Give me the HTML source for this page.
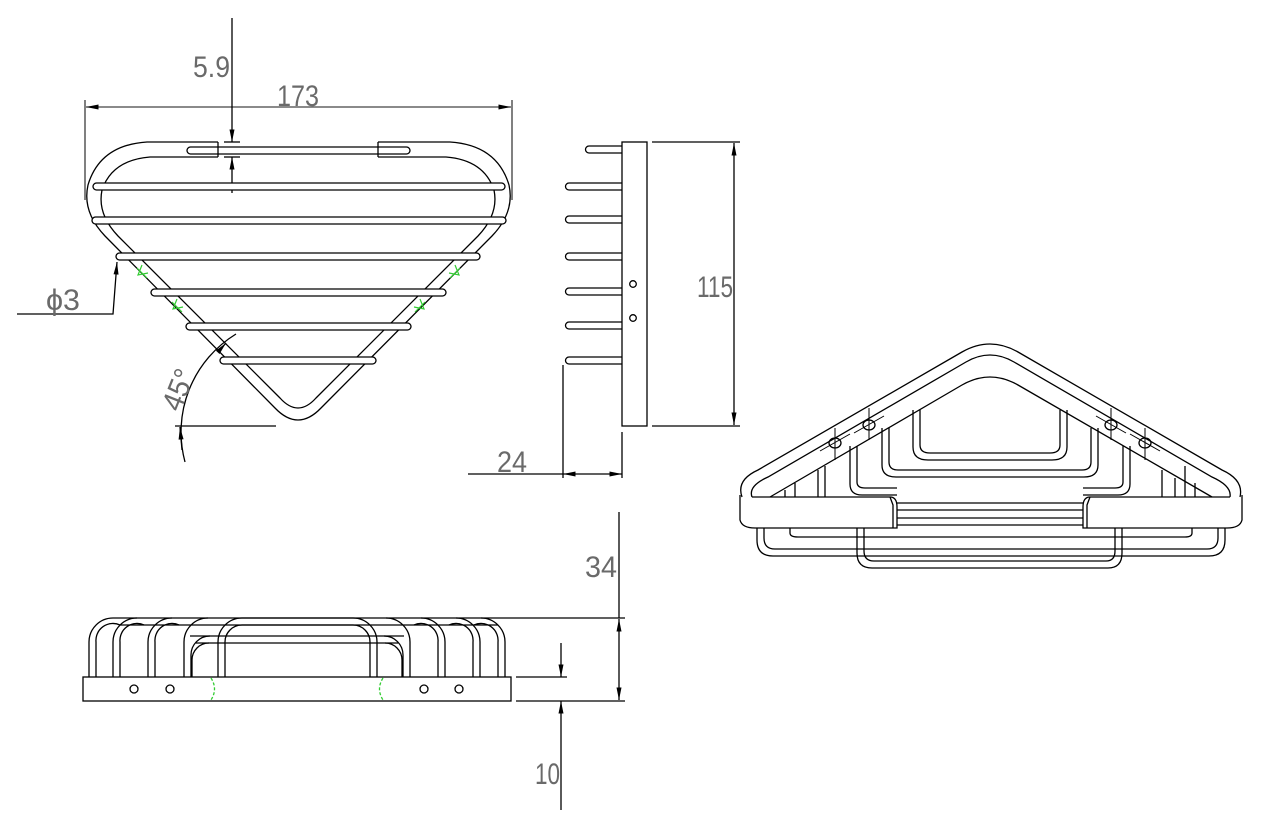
<!DOCTYPE html>
<html><head><meta charset="utf-8"><style>
html,body{margin:0;padding:0;background:#fff;}
svg{display:block;}
text{font-family:"Liberation Sans",sans-serif;fill:#6a6a6a;}
</style></head><body>
<svg width="1280" height="822" viewBox="0 0 1280 822" xmlns="http://www.w3.org/2000/svg">
<defs>
<marker id="a" viewBox="0 0 10 4" refX="10" refY="2" markerWidth="14" markerHeight="5" markerUnits="userSpaceOnUse" orient="auto-start-reverse"><path d="M0,0 L10,2 L0,4z" fill="#000"/></marker>
</defs>
<g fill="none" stroke="#000" stroke-width="1.3">
<line x1="86" y1="107" x2="511" y2="107" marker-start="url(#a)" marker-end="url(#a)" stroke="#444"/>
<line x1="85" y1="100" x2="85" y2="200" stroke-width="1"/>
<line x1="512" y1="100" x2="512" y2="200" stroke-width="1"/>
<line x1="232" y1="18" x2="232" y2="142" marker-end="url(#a)"/>
<line x1="232" y1="193" x2="232" y2="157" marker-end="url(#a)"/>
<line x1="224" y1="142" x2="240" y2="142"/>
<line x1="224" y1="157" x2="240" y2="157"/>
<path d="M218,142 H147 Q100,145 88,185 Q82,212 105,236 L275,408 Q298,432 321,408 L492,236 Q515,212 509,185 Q497,145 450,142 H378"/>
<path d="M218,157 H150 Q112,160 102,190 Q97,214 118,236 L280,398 Q298,418 316,398 L478,236 Q499,214 494,190 Q484,160 446,157 H378"/>
<line x1="218" y1="142" x2="218" y2="157"/>
<line x1="378" y1="142" x2="378" y2="157"/>
<rect x="187" y="147" width="223" height="7" rx="3.5"/>
<rect x="93" y="183" width="412" height="7" rx="3.5" fill="#fff"/>
<rect x="92" y="217" width="414" height="7" rx="3.5" fill="#fff"/>
<rect x="116" y="253" width="364" height="7" rx="3.5" fill="#fff"/>
<rect x="151" y="289" width="295" height="7" rx="3.5" fill="#fff"/>
<rect x="186" y="323" width="225" height="7" rx="3.5" fill="#fff"/>
<rect x="220" y="357" width="156" height="7" rx="3.5" fill="#fff"/>
<g stroke="#3c3" stroke-width="1.2">
<path d="M137,268 l10,10 M142,265 l-4,10 l10,-2 M172,302 l10,10 M177,299 l-4,10 l10,-2"/>
<path d="M460,268 l-10,10 M455,265 l4,10 l-10,-2 M425,302 l-10,10 M420,299 l4,10 l-10,-2"/>
</g>
<path d="M17,314 H113 L117,262" marker-end="url(#a)"/>
<path d="M236,334 A115 115 0 0 0 185,462"/>
<path d="M218,352 L226,343" marker-end="url(#a)"/>
<path d="M182,450 L180,427" marker-end="url(#a)"/>
<line x1="175" y1="426" x2="276" y2="426"/>

<rect x="622" y="142" width="25" height="284"/>
<path d="M622,146 H589 A3.5,3.5 0 0 0 589,153 H622"/>
<path d="M622,183 H569 A3.5,3.5 0 0 0 569,190 H622"/>
<path d="M622,216 H569 A3.5,3.5 0 0 0 569,223 H622"/>
<path d="M622,253 H569 A3.5,3.5 0 0 0 569,260 H622"/>
<path d="M622,288 H569 A3.5,3.5 0 0 0 569,295 H622"/>
<path d="M622,322 H569 A3.5,3.5 0 0 0 569,329 H622"/>
<path d="M622,357 H569 A3.5,3.5 0 0 0 569,364 H622"/>
<circle cx="633" cy="284" r="3.3"/>
<circle cx="633" cy="318" r="3.3"/>
<line x1="652" y1="142" x2="740" y2="142"/>
<line x1="652" y1="426" x2="740" y2="426"/>
<line x1="734" y1="143" x2="734" y2="425" marker-start="url(#a)" marker-end="url(#a)"/>
<line x1="563" y1="365" x2="563" y2="478"/>
<line x1="622" y1="432" x2="622" y2="478"/>
<line x1="468" y1="474" x2="563" y2="474"/>
<line x1="563" y1="474" x2="622" y2="474" marker-start="url(#a)" marker-end="url(#a)"/>

<rect x="83" y="677" width="428" height="24"/>
<circle cx="134" cy="689" r="4"/><circle cx="170" cy="689" r="4"/>
<circle cx="424" cy="689" r="4"/><circle cx="459" cy="689" r="4"/>
<path d="M211,678 Q218,689 211,700 M383,678 Q376,689 383,700" stroke="#3c3" stroke-dasharray="3,2"/>
<line x1="113" y1="618" x2="625" y2="618"/>
<line x1="120" y1="625" x2="498" y2="625"/>
<line x1="190" y1="636" x2="404" y2="636"/>
<line x1="196" y1="643" x2="398" y2="643"/>
<path d="M89,677 V642 A24,24 0 0 1 113,618"/>
<path d="M96,677 V642 A17,17 0 0 1 120,625"/>
<path d="M113,677 V642 A24,24 0 0 1 137,618"/>
<path d="M120,677 V642 A17,17 0 0 1 144,625"/>
<path d="M148,677 V642 A24,24 0 0 1 172,618"/>
<path d="M155,677 V642 A17,17 0 0 1 179,625"/>
<path d="M184,677 V642 A24,24 0 0 1 208,618"/>
<path d="M191,677 V655 A19,19 0 0 1 210,636"/>
<path d="M192,677 V660 A17,17 0 0 1 209,643"/>
<path d="M218,677 V642 A24,24 0 0 1 242,618 H353 A24,24 0 0 1 377,642 V677"/>
<path d="M225,677 V642 A17,17 0 0 1 242,625 H353 A17,17 0 0 1 370,642 V677"/>
<path d="M505,677 V642 A24,24 0 0 0 481,618"/>
<path d="M498,677 V642 A17,17 0 0 0 474,625"/>
<path d="M480,677 V642 A24,24 0 0 0 456,618"/>
<path d="M473,677 V642 A17,17 0 0 0 449,625"/>
<path d="M445,677 V642 A24,24 0 0 0 421,618"/>
<path d="M438,677 V642 A17,17 0 0 0 414,625"/>
<path d="M410,677 V642 A24,24 0 0 0 386,618"/>
<path d="M403,677 V655 A19,19 0 0 0 384,636"/>
<path d="M402,677 V660 A17,17 0 0 0 385,643"/>
<line x1="619" y1="512" x2="619" y2="618"/>
<line x1="619" y1="619" x2="619" y2="700" marker-start="url(#a)" marker-end="url(#a)"/>
<line x1="516" y1="701" x2="625" y2="701"/>
<line x1="516" y1="677" x2="567" y2="677"/>
<line x1="561" y1="643" x2="561" y2="677" marker-end="url(#a)"/>
<line x1="561" y1="810" x2="561" y2="701" marker-end="url(#a)"/>

<path d="M742,497 Q736,480 758,470 L962,352 Q990,336 1018,352 L1222,470 Q1244,480 1240,497"/>
<path d="M752,497 Q748,486 768,477 L966,362 Q990,348 1014,362 L1212,477 Q1232,486 1230,497"/>
<path d="M770,497 L962,385 Q990,369 1018,385 L1212,497"/>
<path d="M740,495 V520 Q742,528 755,528 H897 V507 Q897,497 890,497 H752"/>
<path d="M1242,495 V520 Q1240,528 1227,528 H1083 V507 Q1083,497 1090,497 H1230"/>
<path d="M890,497 L893,505 V528 M1090,497 L1087,505 V528"/>
<path d="M913,410 V447 Q913,460 928,460 H1052 Q1067,460 1067,447 V410"/>
<path d="M920,410 V445 Q920,453 930,453 H1050 Q1060,453 1060,445 V410"/>
<path d="M882,428 V465 Q882,477 896,477 H1084 Q1098,477 1098,465 V428"/>
<path d="M889,428 V462 Q889,470 898,470 H1082 Q1091,470 1091,462 V428"/>
<path d="M850,446 V484 Q850,495 862,495 H897 M1083,495 H1118 Q1130,495 1130,484 V446"/>
<path d="M857,446 V482 Q857,488 865,488 H897 M1083,488 H1115 Q1123,488 1123,482 V446"/>
<line x1="897" y1="503" x2="1083" y2="503"/>
<line x1="897" y1="510" x2="1083" y2="510"/>
<line x1="897" y1="518" x2="1083" y2="518"/>
<line x1="897" y1="525" x2="1083" y2="525"/>
<path d="M795,483 V497 M818,470 V497 M825,466 V497 M785,490 V497 M1185,466 V497 M1162,470 V497 M1195,483 V497 M1175,478 V497"/>
<path d="M757,528 V540 Q757,556 773,556 H1209 Q1225,556 1225,540 V528"/>
<path d="M764,528 V538 Q764,549 775,549 H1207 Q1218,549 1218,538 V528"/>
<path d="M790,528 V533 Q790,537 798,537 H1185 Q1192,537 1192,533 V528"/>
<path d="M857,528 V553 Q857,568 872,568 H1108 Q1122,568 1122,553 V528"/>
<path d="M864,528 V551 Q864,561 874,561 H1106 Q1115,561 1115,551 V528"/>
<ellipse cx="835" cy="443" rx="6" ry="5"/><ellipse cx="869" cy="425" rx="6" ry="5"/>
<ellipse cx="1111" cy="425" rx="6" ry="5"/><ellipse cx="1145" cy="443" rx="6" ry="5"/>
<path d="M835,428 V460 M820,451 L850,434 M869,408 V440 M854,433 L884,416 M1111,408 V440 M1096,416 L1126,433 M1145,428 V460 M1130,434 L1160,451" stroke-width="1"/>
</g>
<text x="193" y="77" font-size="30" textLength="37" lengthAdjust="spacingAndGlyphs">5.9</text>
<text x="277" y="106" font-size="30" textLength="42" lengthAdjust="spacingAndGlyphs">173</text>
<text x="46" y="310" font-size="30" textLength="34" lengthAdjust="spacingAndGlyphs">ϕ3</text>
<text x="0" y="0" font-size="30" textLength="42" lengthAdjust="spacingAndGlyphs" transform="translate(180,413) rotate(-68)">45°</text>
<text x="697" y="297" font-size="30" textLength="36" lengthAdjust="spacingAndGlyphs">115</text>
<text x="497" y="472" font-size="30" textLength="30" lengthAdjust="spacingAndGlyphs">24</text>
<text x="585" y="577" font-size="30" textLength="32" lengthAdjust="spacingAndGlyphs">34</text>
<text x="535" y="784" font-size="30" textLength="25" lengthAdjust="spacingAndGlyphs">10</text>
</svg>
</body></html>
